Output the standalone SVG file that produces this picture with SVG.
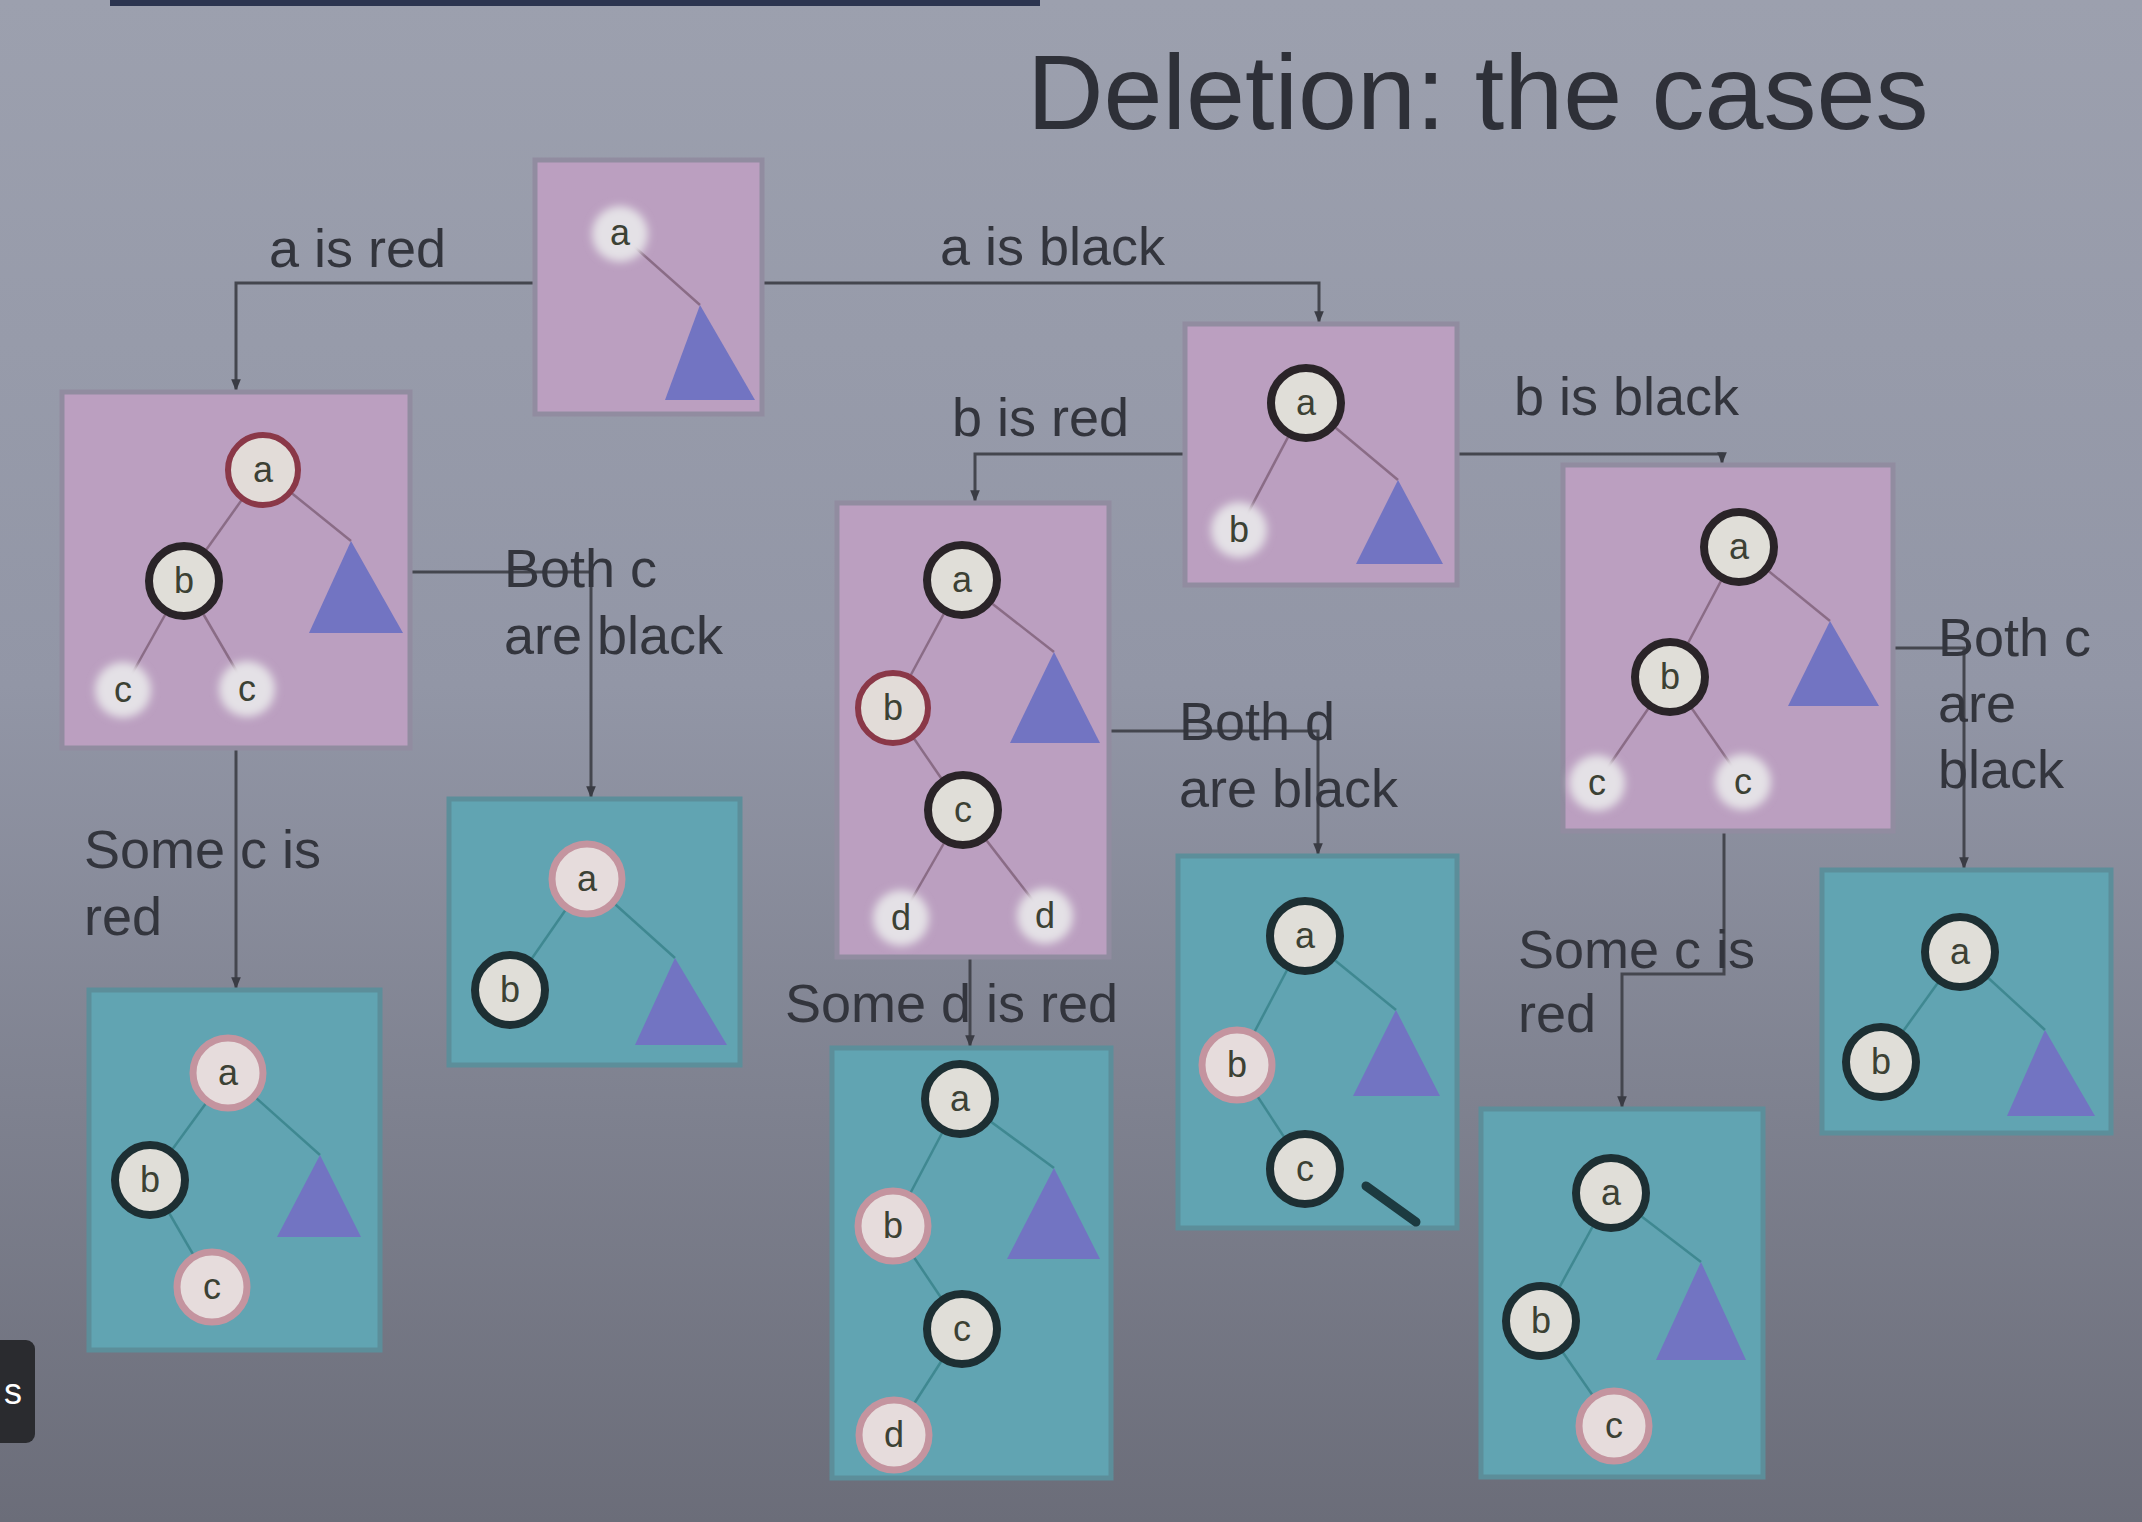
<svg xmlns="http://www.w3.org/2000/svg" width="2142" height="1522" viewBox="0 0 2142 1522">
<defs>
<linearGradient id="bg" x1="0" y1="0" x2="0" y2="1">
<stop offset="0" stop-color="#9ca0ae"/>
<stop offset="0.45" stop-color="#9296a6"/>
<stop offset="1" stop-color="#6b6d79"/>
</linearGradient>
<filter id="soft" x="-50%" y="-50%" width="200%" height="200%"><feGaussianBlur stdDeviation="4"/></filter>
<marker id="arr" viewBox="0 0 10 10" refX="9" refY="5" markerWidth="4" markerHeight="4" orient="auto">
<path d="M0,1 L10,5 L0,9 z" fill="#3a3c44"/>
</marker>
</defs>
<style>
.pink{fill:#bb9fc0;stroke:#918ca0;stroke-width:5}
.teal{fill:#61a4b2;stroke:#5c8e9a;stroke-width:5}
.tri{fill:#7274c2}
.pe{stroke:#8a6c86;stroke-width:2.5;fill:none}
.te{stroke:#3f8891;stroke-width:2.5;fill:none}
.rb{fill:#e0ded8;stroke:#2a2428;stroke-width:8}
.rbt{fill:#e0ded8;stroke:#1d2f33;stroke-width:8}
.rr{fill:#e2dcd8;stroke:#8a3848;stroke-width:6}
.rrl{fill:#e6dcdc;stroke:#c4949f;stroke-width:7}
.halo{fill:#e4e1e6;filter:url(#soft)}
.nt{font-family:"Liberation Sans",Arial,sans-serif;font-size:36px;fill:#3c4134;text-anchor:middle}
.lbl{font-family:"Liberation Sans",Arial,sans-serif;font-size:54px;fill:#33353d}
.con{stroke:#44464e;stroke-width:3;fill:none}
</style>
<rect x="0" y="0" width="2142" height="1522" fill="url(#bg)"/>
<rect x="110" y="0" width="930" height="6" fill="#2c3550"/>
<text x="1027" y="129" font-family="&quot;Liberation Sans&quot;,Arial,sans-serif" font-size="106" fill="#2e3038">Deletion: the cases</text>

<g id="connectors">
<polyline class="con" points="535,283 236,283 236,390" marker-end="url(#arr)"/>
<polyline class="con" points="762,283 1319,283 1319,322" marker-end="url(#arr)"/>
<polyline class="con" points="1185,454 975,454 975,501" marker-end="url(#arr)"/>
<polyline class="con" points="1457,454 1722,454 1722,463" marker-end="url(#arr)"/>
<polyline class="con" points="410,572 591,572 591,797" marker-end="url(#arr)"/>
<polyline class="con" points="236,748 236,988" marker-end="url(#arr)"/>
<polyline class="con" points="1109,731 1318,731 1318,854" marker-end="url(#arr)"/>
<polyline class="con" points="970,957 970,1046" marker-end="url(#arr)"/>
<polyline class="con" points="1893,648 1964,648 1964,868" marker-end="url(#arr)"/>
<polyline class="con" points="1724,831 1724,974 1622,974 1622,1107" marker-end="url(#arr)"/>
<text class="lbl" x="269" y="267">a is red</text>
<text class="lbl" x="940" y="265">a is black</text>
<text class="lbl" x="952" y="436">b is red</text>
<text class="lbl" x="1514" y="415">b is black</text>
<text class="lbl" x="504" y="587">Both c</text>
<text class="lbl" x="504" y="654">are black</text>
<text class="lbl" x="84" y="868">Some c is</text>
<text class="lbl" x="84" y="935">red</text>
<text class="lbl" x="1179" y="740">Both d</text>
<text class="lbl" x="1179" y="807">are black</text>
<text class="lbl" x="785" y="1022">Some d is red</text>
<text class="lbl" x="1938" y="656">Both c</text>
<text class="lbl" x="1938" y="722">are</text>
<text class="lbl" x="1938" y="788">black</text>
<text class="lbl" x="1518" y="968">Some c is</text>
<text class="lbl" x="1518" y="1032">red</text>
</g>

<g id="n-root">
<rect class="pink" x="535" y="160" width="227" height="254"/>
<line class="pe" x1="620" y1="234" x2="700" y2="305"/>
<polygon class="tri" points="700,305 755,400 665,400"/>
<circle class="halo" cx="620" cy="234" r="28"/>
<text class="nt" x="620" y="245">a</text>
</g>

<g id="n-a-red">
<rect class="pink" x="62" y="392" width="348" height="356"/>
<line class="pe" x1="263" y1="470" x2="184" y2="581"/>
<line class="pe" x1="263" y1="470" x2="351" y2="541"/>
<line class="pe" x1="184" y1="581" x2="123" y2="690"/>
<line class="pe" x1="184" y1="581" x2="247" y2="689"/>
<polygon class="tri" points="351,541 403,633 309,633"/>
<circle class="rr" cx="263" cy="470" r="35"/><text class="nt" x="263" y="482">a</text>
<circle class="rb" cx="184" cy="581" r="35"/><text class="nt" x="184" y="593">b</text>
<circle class="halo" cx="123" cy="690" r="28"/><text class="nt" x="123" y="702">c</text>
<circle class="halo" cx="247" cy="689" r="28"/><text class="nt" x="247" y="701">c</text>
</g>

<g id="n-a-red-both-c-black">
<rect class="teal" x="449" y="799" width="291" height="266"/>
<line class="te" x1="587" y1="879" x2="510" y2="990"/>
<line class="te" x1="587" y1="879" x2="675" y2="958"/>
<polygon class="tri" points="675,958 727,1045 635,1045"/>
<circle class="rrl" cx="587" cy="879" r="35"/><text class="nt" x="587" y="891">a</text>
<circle class="rbt" cx="510" cy="990" r="35"/><text class="nt" x="510" y="1002">b</text>
</g>

<g id="n-a-red-some-c-red">
<rect class="teal" x="89" y="990" width="291" height="360"/>
<line class="te" x1="228" y1="1073" x2="150" y2="1180"/>
<line class="te" x1="228" y1="1073" x2="320" y2="1155"/>
<line class="te" x1="150" y1="1180" x2="212" y2="1287"/>
<polygon class="tri" points="320,1155 361,1237 277,1237"/>
<circle class="rrl" cx="228" cy="1073" r="35"/><text class="nt" x="228" y="1085">a</text>
<circle class="rbt" cx="150" cy="1180" r="35"/><text class="nt" x="150" y="1192">b</text>
<circle class="rrl" cx="212" cy="1287" r="35"/><text class="nt" x="212" y="1299">c</text>
</g>

<g id="n-a-black">
<rect class="pink" x="1185" y="324" width="272" height="261"/>
<line class="pe" x1="1306" y1="403" x2="1239" y2="530"/>
<line class="pe" x1="1306" y1="403" x2="1398" y2="480"/>
<polygon class="tri" points="1398,480 1443,564 1356,564"/>
<circle class="rb" cx="1306" cy="403" r="35"/><text class="nt" x="1306" y="415">a</text>
<circle class="halo" cx="1239" cy="530" r="28"/><text class="nt" x="1239" y="542">b</text>
</g>

<g id="n-b-red">
<rect class="pink" x="837" y="503" width="272" height="454"/>
<line class="pe" x1="962" y1="580" x2="893" y2="708"/>
<line class="pe" x1="962" y1="580" x2="1054" y2="652"/>
<line class="pe" x1="893" y1="708" x2="963" y2="810"/>
<line class="pe" x1="963" y1="810" x2="901" y2="918"/>
<line class="pe" x1="963" y1="810" x2="1045" y2="916"/>
<polygon class="tri" points="1054,652 1100,743 1010,743"/>
<circle class="rb" cx="962" cy="580" r="35"/><text class="nt" x="962" y="592">a</text>
<circle class="rr" cx="893" cy="708" r="35"/><text class="nt" x="893" y="720">b</text>
<circle class="rb" cx="963" cy="810" r="35"/><text class="nt" x="963" y="822">c</text>
<circle class="halo" cx="901" cy="918" r="28"/><text class="nt" x="901" y="930">d</text>
<circle class="halo" cx="1045" cy="916" r="28"/><text class="nt" x="1045" y="928">d</text>
</g>

<g id="n-b-red-both-d-black">
<rect class="teal" x="1178" y="856" width="279" height="372"/>
<line class="te" x1="1305" y1="936" x2="1237" y2="1065"/>
<line class="te" x1="1305" y1="936" x2="1396" y2="1010"/>
<line class="te" x1="1237" y1="1065" x2="1305" y2="1169"/>
<polygon class="tri" points="1396,1010 1440,1096 1353,1096"/>
<line x1="1366" y1="1186" x2="1416" y2="1222" stroke="#1c3a40" stroke-width="9" stroke-linecap="round"/>
<circle class="rbt" cx="1305" cy="936" r="35"/><text class="nt" x="1305" y="948">a</text>
<circle class="rrl" cx="1237" cy="1065" r="35"/><text class="nt" x="1237" y="1077">b</text>
<circle class="rbt" cx="1305" cy="1169" r="35"/><text class="nt" x="1305" y="1181">c</text>
</g>

<g id="n-b-red-some-d-red">
<rect class="teal" x="832" y="1048" width="279" height="430"/>
<line class="te" x1="960" y1="1099" x2="893" y2="1226"/>
<line class="te" x1="960" y1="1099" x2="1054" y2="1168"/>
<line class="te" x1="893" y1="1226" x2="962" y2="1329"/>
<line class="te" x1="962" y1="1329" x2="894" y2="1435"/>
<polygon class="tri" points="1054,1168 1100,1259 1007,1259"/>
<circle class="rbt" cx="960" cy="1099" r="35"/><text class="nt" x="960" y="1111">a</text>
<circle class="rrl" cx="893" cy="1226" r="35"/><text class="nt" x="893" y="1238">b</text>
<circle class="rbt" cx="962" cy="1329" r="35"/><text class="nt" x="962" y="1341">c</text>
<circle class="rrl" cx="894" cy="1435" r="35"/><text class="nt" x="894" y="1447">d</text>
</g>

<g id="n-b-black">
<rect class="pink" x="1563" y="465" width="330" height="366"/>
<line class="pe" x1="1739" y1="547" x2="1670" y2="677"/>
<line class="pe" x1="1739" y1="547" x2="1830" y2="621"/>
<line class="pe" x1="1670" y1="677" x2="1597" y2="783"/>
<line class="pe" x1="1670" y1="677" x2="1743" y2="782"/>
<polygon class="tri" points="1830,621 1879,706 1788,706"/>
<circle class="rb" cx="1739" cy="547" r="35"/><text class="nt" x="1739" y="559">a</text>
<circle class="rb" cx="1670" cy="677" r="35"/><text class="nt" x="1670" y="689">b</text>
<circle class="halo" cx="1597" cy="783" r="28"/><text class="nt" x="1597" y="795">c</text>
<circle class="halo" cx="1743" cy="782" r="28"/><text class="nt" x="1743" y="794">c</text>
</g>

<g id="n-b-black-both-c-black">
<rect class="teal" x="1822" y="870" width="289" height="263"/>
<line class="te" x1="1960" y1="952" x2="1881" y2="1062"/>
<line class="te" x1="1960" y1="952" x2="2045" y2="1030"/>
<polygon class="tri" points="2045,1030 2095,1116 2007,1116"/>
<circle class="rbt" cx="1960" cy="952" r="35"/><text class="nt" x="1960" y="964">a</text>
<circle class="rbt" cx="1881" cy="1062" r="35"/><text class="nt" x="1881" y="1074">b</text>
</g>

<g id="n-b-black-some-c-red">
<rect class="teal" x="1481" y="1109" width="282" height="368"/>
<line class="te" x1="1611" y1="1193" x2="1541" y2="1321"/>
<line class="te" x1="1611" y1="1193" x2="1701" y2="1262"/>
<line class="te" x1="1541" y1="1321" x2="1614" y2="1426"/>
<polygon class="tri" points="1701,1262 1746,1360 1656,1360"/>
<circle class="rbt" cx="1611" cy="1193" r="35"/><text class="nt" x="1611" y="1205">a</text>
<circle class="rbt" cx="1541" cy="1321" r="35"/><text class="nt" x="1541" y="1333">b</text>
<circle class="rrl" cx="1614" cy="1426" r="35"/><text class="nt" x="1614" y="1438">c</text>
</g>

<rect x="-10" y="1340" width="45" height="103" rx="9" fill="#2a2b2f"/>
<text x="4" y="1404" font-family="&quot;Liberation Sans&quot;,Arial,sans-serif" font-size="36" fill="#ffffff">s</text>
</svg>
